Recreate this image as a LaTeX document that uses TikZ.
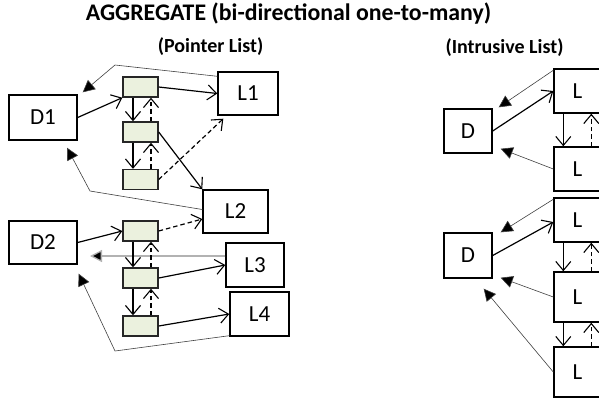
\documentclass[tikz,border=0pt]{standalone}
\usepackage{fontspec}
\setmainfont{Carlito}
\usetikzlibrary{arrows.meta}
\definecolor{cellgreen}{HTML}{EBF1DE}
\tikzset{
  bigbox/.style={draw=black, line width=1.4pt, fill=white, inner sep=0pt, font=\fontsize{23}{26}\selectfont},
  cell/.style={draw=black!85, line width=1.4pt, fill=cellgreen, inner sep=0pt, minimum width=35pt, minimum height=20pt},
  fwd/.style={line width=1.2pt, -{Straight Barb[length=9pt,width=15pt,line width=1.1pt]}},
  back/.style={line width=1.2pt, dashed, dash pattern=on 4.5pt off 3pt, -{Straight Barb[length=9pt,width=15pt,line width=1.1pt]}},
  thinback/.style={line width=0.6pt, draw=black!75, -{Triangle[length=12pt,width=12pt,fill=black]}},
}
\begin{document}
\begin{tikzpicture}[x=1pt,y=-1pt]
\useasboundingbox (0,0) rectangle (599,397);
\clip (0,0) rectangle (599,397);
% titles
\node[font=\fontsize{23.8}{27}\selectfont\bfseries] (title) at (288.5,14) {AGGREGATE (bi-directional one-to-many)};
\node[font=\fontsize{20}{23}\selectfont\bfseries] (ptitle) at (210.5,47) {(Pointer List)};
\node[font=\fontsize{20}{23}\selectfont\bfseries] (ititle) at (504.5,48) {(Intrusive List)};
% left boxes
\node[bigbox, minimum width=68pt, minimum height=45pt] (D1) at (43,117.5) {D1};
\node[bigbox, minimum width=68pt, minimum height=43pt] (D2) at (43,242.5) {D2};
\node[bigbox, minimum width=60pt, minimum height=43pt] (L1) at (248,93.5) {L1};
\node[bigbox, minimum width=65pt, minimum height=43pt] (L2) at (235.5,211.5) {L2};
\node[bigbox, minimum width=58pt, minimum height=44pt] (L3) at (255,265) {L3};
\node[bigbox, minimum width=59pt, minimum height=44pt] (L4) at (259.5,314) {L4};
\node[cell] (b1) at (140.5,87) {};
\node[cell] (b2) at (140.5,132) {};
\node[cell] (b3) at (140.5,179.5) {};
\node[cell] (b4) at (140.5,231) {};
\node[cell] (b5) at (140.5,278) {};
\node[cell] (b6) at (140.5,326) {};
% right boxes
\node[bigbox, minimum width=48pt, minimum height=44pt] (DA) at (468,131) {D};
\node[bigbox, minimum width=48pt, minimum height=45pt] (DB) at (468,255.5) {D};
\node[bigbox, minimum width=47pt, minimum height=44pt] (R1) at (577.5,91) {L};
\node[bigbox, minimum width=47pt, minimum height=44pt] (R2) at (577.5,169) {L};
\node[bigbox, minimum width=47pt, minimum height=44pt] (R3) at (577.5,220) {L};
\node[bigbox, minimum width=47pt, minimum height=50pt] (R4) at (577.5,297) {L};
\node[bigbox, minimum width=47pt, minimum height=50pt] (R5) at (577.5,372) {L};
% bend points
\coordinate (k1) at (115,65);
\coordinate (k2) at (90,191);
\coordinate (k3) at (115,351);
\coordinate (t3) at (90,256);
% left connectors
\draw[fwd] (D1.east) -- (b1.south west);
\draw[fwd] (b1.east) -- (L1.west);
\draw[thinback] ([yshift=-5pt]L1.north west) -- (k1) -- ([shift={(5pt,2pt)}]D1.north east);
\draw[fwd] ([xshift=-7.5pt]b1.south) -- ([xshift=-7.5pt]b2.north);
\draw[back] ([xshift=10.5pt]b2.north) -- ([xshift=10.5pt]b1.south);
\draw[fwd] ([xshift=-7.5pt]b2.south) -- ([xshift=-7.5pt]b3.north);
\draw[back] ([xshift=10.5pt]b3.north) -- ([xshift=10.5pt]b2.south);
\draw[fwd] (b2.east) -- (L2.north west);
\draw[back] (b3.east) -- ([shift={(6pt,-3pt)}]L1.south west);
\draw[thinback] ([yshift=2pt]L2.west) -- (k2) -- ([shift={(24pt,-7pt)}]D1.south);
\draw[fwd] (D2.east) -- (b4.west);
\draw[back] (b4.east) -- ([yshift=-7.5pt]L2.west);
\draw[line width=1.3pt, draw=black!30, -{Triangle[length=12pt,width=12pt,fill=black]}] ([yshift=9pt]L3.west) -- (t3);
\draw[fwd] ([xshift=-7.5pt]b4.south) -- ([xshift=-7.5pt]b5.north);
\draw[back] ([xshift=10.5pt]b5.north) -- ([xshift=10.5pt]b4.south);
\draw[fwd] ([xshift=-7.5pt]b5.south) -- ([xshift=-7.5pt]b6.north);
\draw[back] ([xshift=10.5pt]b6.north) -- ([xshift=10.5pt]b5.south);
\draw[fwd] (b5.east) -- (L3.west);
\draw[fwd] (b6.east) -- (L4.west);
\draw[thinback] ([yshift=1pt]L4.south west) -- (k3) -- ([shift={(1pt,-9pt)}]D2.south east);
% right connectors
\draw[fwd] (DA.east) -- (R1.west);
\draw[thinback] ([yshift=-2pt]R1.north west) -- ([shift={(6pt,1pt)}]DA.north east);
\draw[thinback] (R2.west) -- ([shift={(8pt,5pt)}]DA.south east);
\draw[fwd] ([xshift=10pt]R1.south west) -- ([xshift=10pt]R2.north west);
\draw[back] ([xshift=38pt]R2.north west) -- ([xshift=38pt]R1.south west);
\draw[fwd] (DB.east) -- ([yshift=-2pt]R3.west);
\draw[thinback] ([yshift=-2pt]R3.north west) -- ([shift={(8pt,0pt)}]DB.north east);
\draw[thinback] (R4.west) -- ([shift={(8pt,1pt)}]DB.south east);
\draw[thinback] (R5.west) -- ([shift={(-9pt,-10pt)}]DB.south east);
\draw[fwd] ([xshift=10pt]R3.south west) -- ([xshift=10pt]R4.north west);
\draw[back] ([xshift=38pt]R4.north west) -- ([xshift=38pt]R3.south west);
\draw[fwd] ([xshift=10pt]R4.south west) -- ([xshift=10pt]R5.north west);
\draw[back] ([xshift=38pt]R5.north west) -- ([xshift=38pt]R4.south west);
\end{tikzpicture}
\end{document}
